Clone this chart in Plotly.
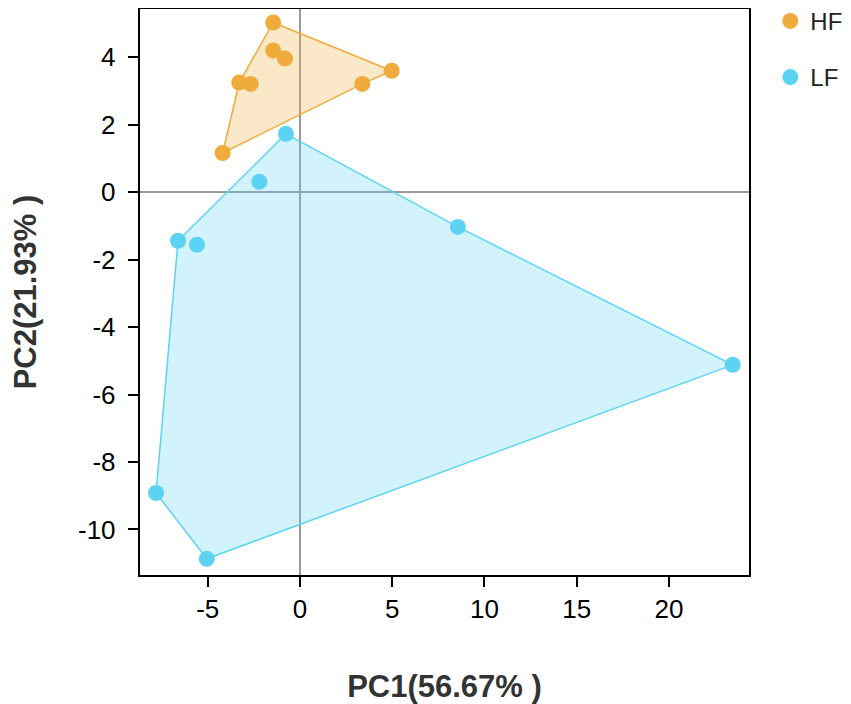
import plotly.graph_objects as go

# PCA scores
hf_x = [-1.45, -1.45, -0.81, -3.29, -2.67, 4.97, 3.38, -4.19]
hf_y = [5.03, 4.20, 3.96, 3.25, 3.21, 3.60, 3.21, 1.16]
lf_x = [-0.76, -2.20, 8.56, 23.46, -6.61, -5.58, -7.80, -5.05]
lf_y = [1.73, 0.31, -1.03, -5.12, -1.44, -1.56, -8.92, -10.87]

# hull vertex order (indices into the series above)
hf_hull = [0, 5, 6, 7, 3]
lf_hull = [0, 2, 3, 7, 6, 4]

x_ticks = [-5, 0, 5, 10, 15, 20]
y_ticks = [-10, -8, -6, -4, -2, 0, 2, 4]

groups = [
    ("HF", hf_x, hf_y, hf_hull, "#EFAB3C", "rgba(239,171,60,0.28)"),
    ("LF", lf_x, lf_y, lf_hull, "#5DD3F3", "rgba(93,211,243,0.28)"),
]

fig = go.Figure()
for name, xs, ys, hull, col, fillcol in groups:
    hx = [xs[i] for i in hull] + [xs[hull[0]]]
    hy = [ys[i] for i in hull] + [ys[hull[0]]]
    fig.add_trace(go.Scatter(x=hx, y=hy, mode="lines", fill="toself",
                             fillcolor=fillcol, line=dict(color=col, width=1.5),
                             showlegend=False, legendgroup=name, hoverinfo="skip"))
    fig.add_trace(go.Scatter(x=xs, y=ys, mode="markers", name=name,
                             legendgroup=name,
                             marker=dict(color=col, size=16)))

axis_style = dict(showgrid=False, showline=True, linecolor="black", linewidth=2,
                  mirror=True, ticks="outside", ticklen=10, tickwidth=2,
                  tickcolor="black", zeroline=True, zerolinecolor="#9a9a9a",
                  zerolinewidth=1.5, tickfont=dict(size=26, color="black"))

# hyphen minus signs like the original
fig.update_xaxes(range=[-8.67, 24.34], tickvals=x_ticks,
                 ticktext=[str(v) for v in x_ticks],
                 title=dict(text="<b>PC1(56.67% )</b>", standoff=54,
                            font=dict(size=31, color="#333333")),
                 **axis_style)
fig.update_yaxes(range=[-11.35, 5.43], tickvals=y_ticks,
                 ticktext=[str(v) + " " for v in y_ticks],
                 title=dict(text="<b>PC2(21.93% )</b>", standoff=42,
                            font=dict(size=31, color="#333333")),
                 **axis_style)

# page body adds 8px, so the figure is 8px smaller than the window
fig.update_layout(
    width=843, height=696,
    margin=dict(l=132, r=102, t=1, b=129, autoexpand=False),
    plot_bgcolor="white", paper_bgcolor="white",
    font=dict(family="Liberation Sans, Arial, sans-serif", color="black"),
    legend=dict(x=1.035, y=1.018, xanchor="left", yanchor="top",
                tracegroupgap=22, font=dict(size=24, color="#222222"),
                bgcolor="rgba(0,0,0,0)"),
)

fig.write_html("out.html")
